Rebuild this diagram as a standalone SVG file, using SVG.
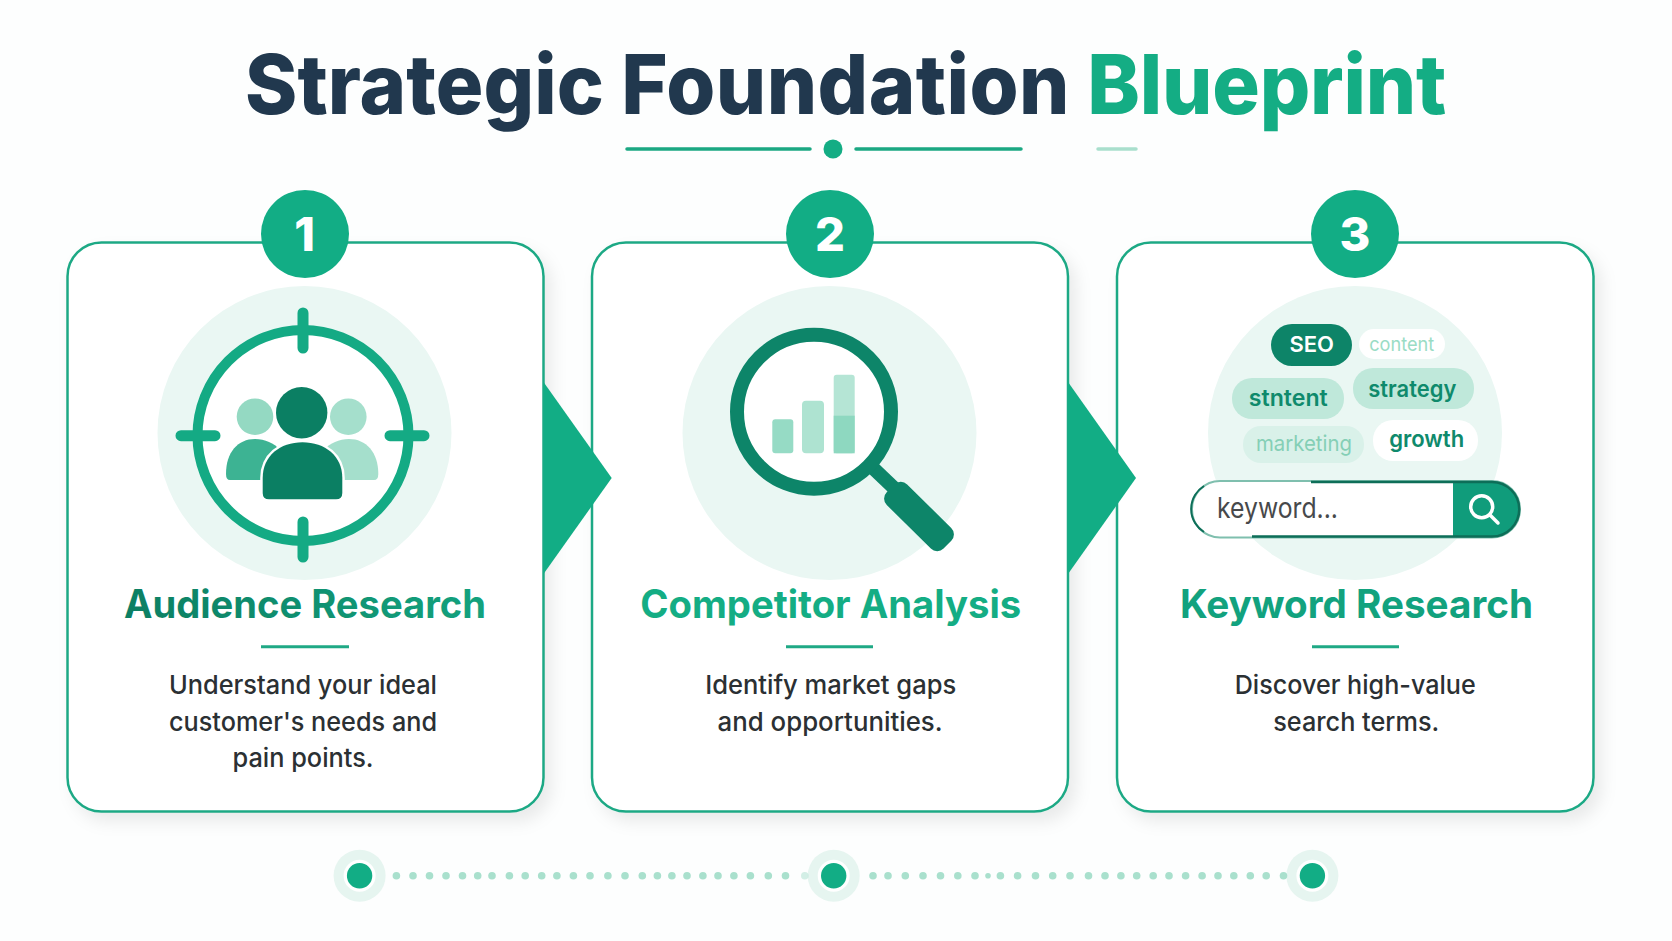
<svg xmlns="http://www.w3.org/2000/svg" width="1672" height="941" viewBox="0 0 1672 941">
<style>
text{font-family:Inter,"Liberation Sans",sans-serif}
.card{fill:#fff;stroke:#1fa985;stroke-width:2.5;filter:url(#sh)}
.badge{fill:#12ad85}
.num{fill:#fff;font-size:47px;font-weight:800;text-anchor:middle}
.halo{fill:#eaf7f3}
.ttl{font-size:39px;font-weight:700;text-anchor:middle}
.rule{stroke:#1fa985;stroke-width:3}
.body{font-size:26px;font-weight:500;fill:#2b3033;text-anchor:middle}
.tick{stroke:#14aa84;stroke-width:11;stroke-linecap:round}
.dot{fill:#a9e0cd}
.tag{text-anchor:middle}
</style>
<defs>
<filter id="sh" x="-10%" y="-10%" width="125%" height="125%"><feDropShadow dx="7" dy="9" stdDeviation="8" flood-color="#000" flood-opacity=".08"/></filter>
<linearGradient id="g1" gradientUnits="userSpaceOnUse" x1="124" y1="0" x2="486" y2="0"><stop offset="0" stop-color="#0c7f63"/><stop offset="1" stop-color="#13a27e"/></linearGradient>
</defs>
<rect width="1672" height="941" fill="#fdfefe"/>
<g id="title">
<text x="845.500" y="114" font-size="83" font-weight="800" text-anchor="middle" textLength="1201" lengthAdjust="spacingAndGlyphs" fill="#21384e">Strategic <tspan letter-spacing=".45">Foundation</tspan> <tspan fill="#14ad84" letter-spacing="-.25">Blueprint</tspan></text>
<g stroke="#1ba883" stroke-width="3.500" stroke-linecap="round"><path d="M627 149H810M856 149H1021"/><path d="M1098 149H1136" stroke="#a9dfcd"/></g>
<circle cx="833" cy="149" r="9.500" fill="#14ad84"/>
</g>
<g id="step-marker-1"><circle cx="359.600" cy="875.700" r="26" fill="#e6f5f0"/><circle cx="359.600" cy="875.700" r="16" fill="#fff"/><circle cx="359.600" cy="875.700" r="12.700" fill="#12ad85"/></g>
<g id="step-marker-2"><circle cx="833.700" cy="875.700" r="26" fill="#e6f5f0"/><circle cx="833.700" cy="875.700" r="16" fill="#fff"/><circle cx="833.700" cy="875.700" r="12.700" fill="#12ad85"/></g>
<g id="step-marker-3"><circle cx="1312.400" cy="875.700" r="26" fill="#e6f5f0"/><circle cx="1312.400" cy="875.700" r="16" fill="#fff"/><circle cx="1312.400" cy="875.700" r="12.700" fill="#12ad85"/></g>

<g id="card-1">
<rect class="card" x="67.500" y="242.500" width="476" height="569" rx="34"/>
<circle class="badge" cx="305" cy="234" r="44"/>
<text class="num" x="304.500" y="251">1</text>
<circle class="halo" cx="304.500" cy="433" r="147"/>
<circle cx="303" cy="435.500" r="105.500" fill="#fff" stroke="#14aa84" stroke-width="10"/>
<path class="tick" d="M303 313V348M303 522V557M181 435.700H215M390 435.700H424"/>
<g stroke="#fff" stroke-width="3">
<circle cx="255" cy="416.700" r="18.300" fill="#94d9c2" stroke="none"/>
<circle cx="348.300" cy="416.700" r="18.300" fill="#a5dfcc" stroke="none"/>
<path d="M226 474C226 452 238 439 255 439C265 439 274 443 280 450L262 480H230Q226 480 226 474Z" fill="#3db393" stroke="none"/>
<path d="M378.300 474C378.300 452 366 439 349 439C339 439 330 443 324 450L342 480H374Q378.300 480 378.300 474Z" fill="#a5dfcc" stroke="none"/>
<circle cx="301.700" cy="412.700" r="25.700" fill="#0b7f63" stroke="none"/>
<path d="M262.700 493V478C262.700 456 280 442.300 302.500 442.300C325 442.300 342.300 456 342.300 478V493Q342.300 499.300 336 499.300H269Q262.700 499.300 262.700 493Z" fill="#0b7f63" stroke-width="5" paint-order="stroke"/>
</g>
<text class="ttl" x="305" y="618.300" fill="url(#g1)" textLength="362" lengthAdjust="spacingAndGlyphs">Audience Research</text>
<path class="rule" d="M261 646.700H349"/>
<text class="body" x="303" y="694" textLength="268" lengthAdjust="spacingAndGlyphs">Understand your ideal</text>
<text class="body" x="303" y="730.500" textLength="268" lengthAdjust="spacingAndGlyphs">customer's needs and</text>
<text class="body" x="303" y="766.500" textLength="141" lengthAdjust="spacingAndGlyphs">pain points.</text>
</g>

<g id="card-2">
<rect class="card" x="592" y="242.500" width="476" height="569" rx="34"/>
<circle class="badge" cx="830" cy="234" r="44"/>
<text class="num" x="830" y="251">2</text>
<circle class="halo" cx="829.500" cy="433" r="147"/>
<path d="M873 468L895 489" stroke="#0d8569" stroke-width="14"/>
<rect x="-40" y="-14.500" width="80" height="29" rx="9" transform="translate(919 516.500) rotate(44.700)" fill="#0d8569"/>
<circle cx="814" cy="411.700" r="77" fill="#fff" stroke="#0d8569" stroke-width="14"/>
<rect x="772.300" y="419.300" width="21" height="34" rx="3" fill="#96dbc5"/>
<rect x="802" y="400.700" width="22" height="52.600" rx="4" fill="#aee3d1"/>
<rect x="833.700" y="374.700" width="21" height="78.600" rx="3" fill="#b5e5d5"/>
<path d="M833.700 415.700H854.700V453.300H833.700Z" fill="#8ed8c0"/>
<text class="ttl" x="830.700" y="618.300" fill="#14ad84" textLength="381" lengthAdjust="spacingAndGlyphs">Competitor Analysis</text>
<path class="rule" d="M786 646.700H873"/>
<text class="body" x="830.700" y="694" textLength="251" lengthAdjust="spacingAndGlyphs">Identify market gaps</text>
<text class="body" x="830.100" y="730.500" textLength="225" lengthAdjust="spacingAndGlyphs">and opportunities.</text>
</g>

<g id="card-3">
<rect class="card" x="1117" y="242.500" width="476.500" height="569" rx="34"/>
<circle class="badge" cx="1355" cy="234" r="44"/>
<text class="num" x="1355" y="251">3</text>
<circle class="halo" cx="1355" cy="433" r="147"/>
<rect x="1271" y="324" width="81" height="42" rx="21" fill="#0d8468"/>
<text class="tag" x="1311.700" y="352.300" fill="#fff" font-size="22" font-weight="600">SEO</text>
<rect x="1359" y="329" width="86" height="30" rx="15" fill="#fff"/>
<text class="tag" x="1401.700" y="351" fill="#9adcc5" font-size="19" textLength="65" lengthAdjust="spacingAndGlyphs">content</text>
<rect x="1232" y="378" width="112" height="41" rx="20" fill="#bfe8da"/>
<text class="tag" x="1288.300" y="406" fill="#0f8a6c" font-size="23" font-weight="600" textLength="79" lengthAdjust="spacingAndGlyphs">stntent</text>
<rect x="1353" y="368" width="121" height="41" rx="20" fill="#bfe8da"/>
<text class="tag" x="1412.300" y="396.700" fill="#0f8a6c" font-size="23" font-weight="600" textLength="88" lengthAdjust="spacingAndGlyphs">strategy</text>
<rect x="1243" y="426" width="121" height="37" rx="18" fill="#d9f1e9"/>
<text class="tag" x="1304" y="450.700" fill="#85cfb6" font-size="22" textLength="96" lengthAdjust="spacingAndGlyphs">marketing</text>
<rect x="1373" y="420" width="105" height="41" rx="20" fill="#fff"/>
<text class="tag" x="1426.700" y="446.700" fill="#0f8a6c" font-size="23" font-weight="600" textLength="75" lengthAdjust="spacingAndGlyphs">growth</text>
<rect x="1192" y="481" width="328" height="56.500" rx="28" fill="#fff" stroke="#7fbfae" stroke-width="2"/>
<path d="M1204 486A27 27 0 0 0 1204 532" fill="none" stroke="#0d6e58" stroke-width="2"/>
<path d="M1453 482H1492A27 27 0 0 1 1492 536.500H1453Z" fill="#109c7b"/>
<path d="M1311 482H1492A27 27 0 0 1 1492 536.500H1252" fill="none" stroke="#0d6e58" stroke-width="2.500"/>
<text x="1217" y="518" fill="#47494b" font-size="28" textLength="121" lengthAdjust="spacingAndGlyphs">keyword...</text>
<circle cx="1481.700" cy="506.700" r="11" fill="none" stroke="#fff" stroke-width="3.500"/>
<path d="M1490 515L1498 523" stroke="#fff" stroke-width="3.500" stroke-linecap="round"/>
<text class="ttl" x="1356.500" y="618.300" fill="#12a27e" textLength="353" lengthAdjust="spacingAndGlyphs">Keyword Research</text>
<path class="rule" d="M1312 646.700H1399"/>
<text class="body" x="1355.200" y="694" textLength="241" lengthAdjust="spacingAndGlyphs">Discover high-value</text>
<text class="body" x="1356.200" y="730.500" textLength="166" lengthAdjust="spacingAndGlyphs">search terms.</text>
</g>

<g id="connectors">
<path d="M543.500 382L611.700 478L543.500 574Z" fill="#12ad85"/>
<path d="M1068 382L1136 478L1068 574Z" fill="#12ad85"/>
<g id="timeline" class="dot"><circle cx="396.400" cy="875.700" r="3.800"/><circle cx="413" cy="875.700" r="3.800"/><circle cx="429.500" cy="875.700" r="3.800"/><circle cx="446" cy="875.700" r="3.800"/><circle cx="462.500" cy="875.700" r="3.800"/><circle cx="477.700" cy="875.700" r="3.800"/><circle cx="492" cy="875.700" r="3.800"/><circle cx="509.400" cy="875.700" r="3.800"/><circle cx="525.200" cy="875.700" r="3.800"/><circle cx="541.700" cy="875.700" r="3.800"/><circle cx="556.900" cy="875.700" r="3.800"/><circle cx="573.400" cy="875.700" r="3.800"/><circle cx="590" cy="875.700" r="3.800"/><circle cx="607.900" cy="875.700" r="3.800"/><circle cx="625" cy="875.700" r="3.800"/><circle cx="642.300" cy="875.700" r="3.800"/><circle cx="657.400" cy="875.700" r="3.800"/><circle cx="671.900" cy="875.700" r="3.800"/><circle cx="687" cy="875.700" r="3.800"/><circle cx="702.900" cy="875.700" r="3.800"/><circle cx="718" cy="875.700" r="3.800"/><circle cx="733.900" cy="875.700" r="3.800"/><circle cx="750.400" cy="875.700" r="3.800"/><circle cx="768.300" cy="875.700" r="3.800"/><circle cx="785.500" cy="875.700" r="3.800"/><circle cx="804.800" cy="875.700" r="3.800" opacity=".5"/>
<circle cx="873" cy="875.700" r="3.800"/><circle cx="888" cy="875.700" r="3.800"/><circle cx="905.300" cy="875.700" r="3.800"/><circle cx="923" cy="875.700" r="3.800"/><circle cx="940.500" cy="875.700" r="3.800"/><circle cx="957.800" cy="875.700" r="3.800"/><circle cx="975" cy="875.700" r="3.800"/><circle cx="988" cy="875.700" r="2.800"/><circle cx="1000.400" cy="875.700" r="3.800"/><circle cx="1017.600" cy="875.700" r="3.800"/><circle cx="1035.500" cy="875.700" r="3.800"/><circle cx="1052.700" cy="875.700" r="3.800"/><circle cx="1070" cy="875.700" r="3.800"/><circle cx="1088.500" cy="875.700" r="3.800"/><circle cx="1105" cy="875.700" r="3.800"/><circle cx="1120.900" cy="875.700" r="3.800"/><circle cx="1136.700" cy="875.700" r="3.800"/><circle cx="1153.200" cy="875.700" r="3.800"/><circle cx="1169" cy="875.700" r="3.800"/><circle cx="1185.600" cy="875.700" r="3.800"/><circle cx="1202.100" cy="875.700" r="3.800"/><circle cx="1218" cy="875.700" r="3.800"/><circle cx="1233.800" cy="875.700" r="3.800"/><circle cx="1250.300" cy="875.700" r="3.800"/><circle cx="1266.200" cy="875.700" r="3.800"/><circle cx="1283.500" cy="875.700" r="3.800"/></g>
</g>
</svg>
